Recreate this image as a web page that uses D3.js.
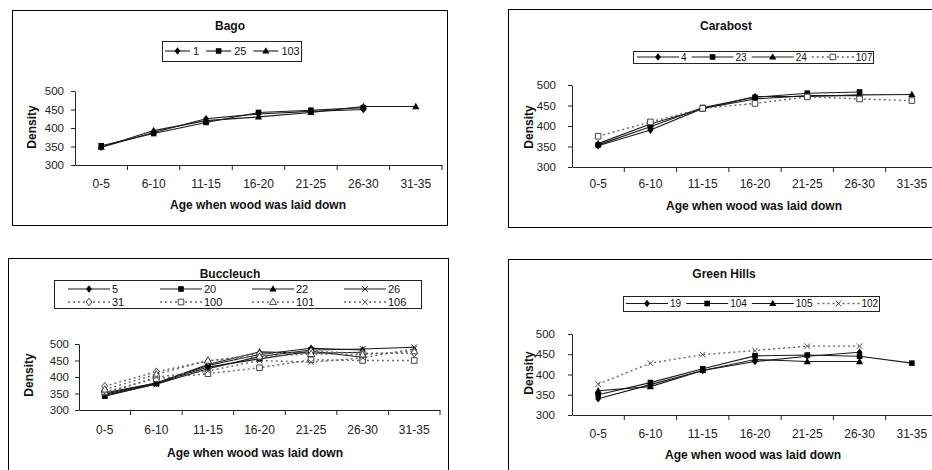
<!DOCTYPE html>
<html>
<head>
<meta charset="utf-8">
<script src="https://cdn.jsdelivr.net/npm/d3@7"></script>
<style>
  body { margin: 0; background: #fff; }
  svg { display: block; font-family: "Liberation Sans", Arial, sans-serif; }
</style>
</head>
<body>
<svg id="chart" width="932" height="470"></svg>
<script>
// shared categories and ticks
const ageGroups = ["0-5", "6-10", "11-15", "16-20", "21-25", "26-30", "31-35"];
const densityTicks = [300, 350, 400, 450, 500];

// Bago
const bagoTrees = ["1", "25", "103"];
const bagoDensity = [
  [348, 388, 425, 438, 445, 450, null],
  [352, 385, 415, 442, 448, 455, null],
  [348, 393, 420, 430, 442, 458, 458]
];

// Carabost
const carabostTrees = ["4", "23", "24", "107"];
const carabostDensity = [
  [352, 390, 443, 466, 474, 474, null],
  [354, 398, 445, 470, 480, 483, null],
  [357, 405, 442, 472, 472, 476, 477],
  [375, 410, 443, 455, 471, 466, 462]
];

// Buccleuch
const buccleuchTrees = ["5", "20", "22", "26", "31", "100", "101", "106"];
const buccleuchDensity = [
  [348, 382, 435, 468, 487, 482, null],
  [342, 380, 430, 455, 478, 460, null],
  [352, 382, 438, 476, 472, 475, null],
  [345, 378, 425, 462, 482, 485, 490],
  [372, 416, 448, 470, 478, 472, 472],
  [355, 395, 410, 428, 452, 450, 450],
  [362, 408, 450, 462, 470, 468, 478],
  [350, 400, 418, 450, 445, 458, 485]
];

// Green Hills
const greenHillsTrees = ["19", "104", "105", "102"];
const greenHillsDensity = [
  [340, 375, 410, 432, 445, 455, null],
  [350, 380, 414, 446, 448, 445, 428],
  [360, 370, 410, 437, 432, 432, null],
  [376, 428, 449, 459, 470, 470, null]
];

// marker type and line style per series
const bagoMarks = ["diamond", "square", "triangle"];
const carabostMarks = ["diamond", "square", "triangle", "openSquare"];
const buccleuchMarks = ["diamond", "square", "triangle", "x", "openDiamond", "openSquare", "openTriangle", "x"];
const greenHillsMarks = ["diamond", "square", "triangle", "x"];
const bagoDotted = [false, false, false];
const carabostDotted = [false, false, false, true];
const buccleuchDotted = [false, false, false, false, true, true, true, true];
const greenHillsDotted = [false, false, false, true];

const svg = d3.select("#chart");
const fontFamily = "Liberation Sans, Arial, sans-serif";

function markerPath(type) {
  if (type.endsWith("iamond")) return "M0,-3.8L2.9,0L0,3.8L-2.9,0Z";
  if (type.endsWith("quare")) return "M-2.8,-2.8H2.8V2.8H-2.8Z";
  if (type.endsWith("riangle")) return "M0,-3.8L3.6,2.6L-3.6,2.6Z";
  return "M-2.8,-2.8L2.8,2.8M2.8,-2.8L-2.8,2.8";
}

function drawMarker(g, type, dotted, cx, cy) {
  const open = type.startsWith("open");
  const m = g.append("path")
    .attr("d", markerPath(type))
    .attr("transform", `translate(${cx},${cy})`);
  if (type === "x") {
    m.attr("fill", "none").attr("stroke", dotted ? "#555" : "#111").attr("stroke-width", 1);
  } else if (open) {
    m.attr("fill", "#fff").attr("stroke", "#444").attr("stroke-width", 1);
  } else {
    m.attr("fill", "#000");
  }
}

function styleLine(sel, dotted) {
  sel.attr("fill", "none")
    .attr("stroke", dotted ? "#666" : "#1a1a1a")
    .attr("stroke-width", dotted ? 1.4 : 1.1)
    .attr("stroke-dasharray", dotted ? "2,3" : null);
}

function drawPanel(p) {
  const g = svg.append("g");

  // outer frame
  g.append("rect")
    .attr("x", p.frame[0] + 0.5).attr("y", p.frame[1] + 0.5)
    .attr("width", p.frame[2]).attr("height", p.frame[3])
    .attr("fill", "#fff").attr("stroke", "#000").attr("stroke-width", 1);

  // title
  g.append("text")
    .attr("x", p.titleX).attr("y", p.titleY)
    .attr("text-anchor", "middle")
    .attr("font-size", 12).attr("font-weight", "bold")
    .attr("fill", "#111")
    .text(p.title);

  const x = d3.scaleBand().domain(ageGroups).range([p.left, p.right]);
  const y = d3.scaleLinear().domain([300, 500]).range([p.bottom, p.top]);

  // y axis
  const ya = g.append("g")
    .attr("transform", `translate(${p.left},0)`)
    .call(d3.axisLeft(y).tickValues(densityTicks).tickSize(4).tickSizeOuter(0).tickPadding(p.yPad));
  ya.attr("font-family", fontFamily).attr("font-size", 11.5).attr("color", "#222");

  // x axis, labels centred in the bands
  const xa = g.append("g")
    .attr("transform", `translate(0,${p.bottom})`)
    .call(d3.axisBottom(x).tickSize(0).tickSizeOuter(0).tickPadding(p.xPad));
  xa.attr("font-family", fontFamily).attr("font-size", 12).attr("color", "#222");

  // x ticks between the bands
  g.selectAll(".btick")
    .data(ageGroups)
    .join("line")
    .attr("x1", d => x(d) + x.bandwidth())
    .attr("x2", d => x(d) + x.bandwidth())
    .attr("y1", p.bottom)
    .attr("y2", p.bottom + 5)
    .attr("stroke", "#222");

  // axis titles
  g.append("text")
    .attr("transform", `translate(${p.yTitleX},${p.yTitleY}) rotate(-90)`)
    .attr("text-anchor", "middle")
    .attr("font-size", 12).attr("font-weight", "bold")
    .attr("fill", "#111")
    .text("Density");

  g.append("text")
    .attr("x", p.xTitleX).attr("y", p.xTitleY)
    .attr("text-anchor", "middle")
    .attr("font-size", 12).attr("font-weight", "bold")
    .attr("fill", "#111")
    .text("Age when wood was laid down");

  // series
  const line = d3.line()
    .defined(d => d != null)
    .x((d, i) => x(ageGroups[i]) + x.bandwidth() / 2)
    .y(d => y(d));

  p.values.forEach((vals, s) => {
    styleLine(g.append("path").attr("d", line(vals)), p.dotted[s]);
  });
  p.values.forEach((vals, s) => {
    vals.forEach((v, i) => {
      if (v == null) return;
      drawMarker(g, p.marks[s], p.dotted[s], x(ageGroups[i]) + x.bandwidth() / 2, y(v));
    });
  });

  // legend
  const L = p.legend;
  g.append("rect")
    .attr("x", L.box[0] + 0.5).attr("y", L.box[1] + 0.5)
    .attr("width", L.box[2]).attr("height", L.box[3])
    .attr("fill", "#fff").attr("stroke", "#222");

  let cx = L.start;
  p.trees.forEach((name, s) => {
    let lx, ly;
    if (L.cols) {
      lx = L.start + (s % L.cols) * L.colW;
      ly = L.rows[Math.floor(s / L.cols)];
    } else {
      lx = cx;
      ly = L.cy;
    }
    styleLine(g.append("line")
      .attr("x1", lx).attr("x2", lx + L.len)
      .attr("y1", ly).attr("y2", ly), p.dotted[s]);
    drawMarker(g, p.marks[s], p.dotted[s], lx + L.len / 2, ly);
    const t = g.append("text")
      .attr("x", lx + L.len + L.labelOff)
      .attr("y", ly + L.fs * 0.36)
      .attr("font-size", L.fs)
      .attr("fill", "#111")
      .text(name);
    cx = lx + L.len + L.labelOff + t.node().getComputedTextLength() + L.gap;
  });
}

const panels = [
  {
    title: "Bago", trees: bagoTrees, values: bagoDensity, marks: bagoMarks, dotted: bagoDotted,
    frame: [12, 10, 435, 215], titleX: 230, titleY: 30,
    left: 75, right: 442, top: 91, bottom: 165, yPad: 7, xPad: 14,
    yTitleX: 36, yTitleY: 127, xTitleX: 258, xTitleY: 209,
    legend: { box: [162, 41, 139, 20], start: 165, cy: 51, len: 25, labelOff: 3, gap: 7, fs: 11 }
  },
  {
    title: "Carabost", trees: carabostTrees, values: carabostDensity, marks: carabostMarks, dotted: carabostDotted,
    frame: [508, 9, 440, 218], titleX: 726, titleY: 30,
    left: 572, right: 938, top: 85, bottom: 167, yPad: 12, xPad: 12,
    yTitleX: 533, yTitleY: 127, xTitleX: 754, xTitleY: 210,
    legend: { box: [633, 51, 240, 12], start: 637, cy: 57, len: 42, labelOff: 2, gap: 5, fs: 10 }
  },
  {
    title: "Buccleuch", trees: buccleuchTrees, values: buccleuchDensity, marks: buccleuchMarks, dotted: buccleuchDotted,
    frame: [8, 258, 440, 230], titleX: 230, titleY: 278,
    left: 79, right: 440, top: 344, bottom: 410, yPad: 6, xPad: 15,
    yTitleX: 33, yTitleY: 375, xTitleX: 255, xTitleY: 457,
    legend: { box: [54, 280, 367, 28], start: 68, cols: 4, colW: 92, rows: [289, 302], len: 42, labelOff: 2, gap: 6, fs: 11 }
  },
  {
    title: "Green Hills", trees: greenHillsTrees, values: greenHillsDensity, marks: greenHillsMarks, dotted: greenHillsDotted,
    frame: [508, 259, 440, 230], titleX: 724, titleY: 278,
    left: 572, right: 938, top: 334, bottom: 415, yPad: 13, xPad: 14,
    yTitleX: 533, yTitleY: 373, xTitleX: 753, xTitleY: 459,
    legend: { box: [623, 296, 256, 15], start: 626, cy: 303.5, len: 42, labelOff: 2, gap: 5, fs: 10 }
  }
];

panels.forEach(drawPanel);
</script>
</body>
</html>
